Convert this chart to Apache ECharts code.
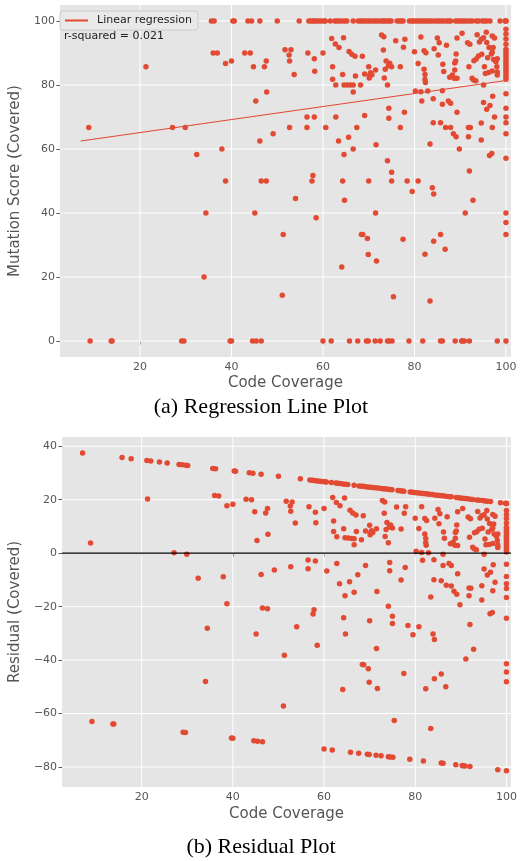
<!DOCTYPE html>
<html>
<head>
<meta charset="utf-8">
<script src="https://cdn.jsdelivr.net/npm/echarts@6/dist/echarts.min.js"></script>
<style>
html,body{margin:0;padding:0;background:#fff;}
#chart{width:522px;height:861px;}
</style>
</head>
<body>
<div id="chart"></div>
<script>
// ---- Data ----
// Coverage of the points whose mutation score is 100
const fullScoreCoverage = [7.05, 15.7, 17.7, 21.15, 22.0, 23.9, 25.6, 28.2, 28.9, 29.7, 30.1, 35.6, 36.2, 40.3, 40.6, 43.6, 44.4, 46.2, 50.0, 54.8, 56.9, 57.4, 57.8, 58.2, 58.6, 59.1, 59.6, 60.2, 60.5, 61.6, 62.6, 63.0, 63.5, 64.1, 64.7, 65.2, 66.6, 67.7, 68.2, 68.6, 69.1, 69.6, 70.1, 70.6, 71.2, 71.7, 72.2, 72.8, 73.2, 73.6, 74.1, 74.5, 74.9, 76.2, 76.7, 77.1, 77.5, 78.9, 79.4, 79.8, 80.3, 80.8, 81.3, 81.8, 82.3, 82.7, 83.2, 83.7, 84.3, 84.9, 85.4, 85.9, 86.4, 87.0, 87.5, 87.9, 89.0, 89.5, 89.9, 90.4, 90.9, 91.5, 92.1, 92.6, 93.5, 94.0, 94.8, 95.3, 95.8, 96.5, 98.7, 99.8];
// Coverage of the points whose mutation score is 0
const zeroScoreCoverage = [9.1, 13.7, 13.9, 29.1, 29.6, 39.7, 40.0, 44.6, 45.4, 46.5, 60.0, 61.8, 65.8, 67.6, 69.5, 69.9, 71.4, 72.5, 74.1, 74.5, 75.1, 78.8, 81.8, 85.7, 86.1, 88.9, 90.3, 90.5, 90.9, 92.0, 98.1];
// Mutation scores of the points with 100% coverage
const fullCoverageScores = [100, 100, 97.4, 95.9, 94.4, 92.7, 91.1, 90.4, 89.6, 88.8, 88.0, 87.3, 86.5, 85.7, 84.9, 84.2, 83.4, 82.6, 81.8, 77.3, 72.7, 70.0, 68.2, 64.8, 57.1, 40.0, 37.0, 33.3, 0];
// Remaining points [coverage, score]
const otherPoints = [
 [8.8,66.7],[21.3,85.7],[27.1,66.7],[29.9,66.7],[32.4,58.3],[37.9,60],[38.7,50],[36.0,90],[36.9,90],[38.7,86.7],[40.0,87.5],[42.9,90],[44.1,90],[44.8,85.7],[45.3,75],[46.2,62.5],[46.5,50],[34.4,40],[45.1,40],[34.0,20],
 [47.2,85.7],[47.6,87.5],[47.7,77.8],[49.1,64.8],[51.7,91],[52.6,89.4],[53.0,91],[52.7,87.5],[53.7,83.3],[56.7,90],[56.5,70],[58.1,70],[52.7,66.7],[56.5,66.7],[58.1,88.2],[58.2,84.3],[60,90],[47.6,50],[57.6,50],[57.8,51.7],[54,44.5],[58.5,38.5],[51.3,33.3],[51.1,14.3],
 [61.9,94.5],[62.7,92.8],[63.5,91.7],[64.5,94.8],[62.1,85.7],[62.1,81.8],[62.8,80],[64.3,83.3],[64.6,80],[65.3,80],[66.0,80],[66.6,80],[68.2,80],[66.6,77.8],[65.7,90.5],[66.3,89.6],[67.0,89],[68.6,89],[67.1,82.8],[69.1,83.4],[70.0,85.7],[70.4,83.8],[70.1,82.2],[70.7,83.2],[71.5,84.7],[70.2,83],[72.8,95.6],[73.3,95.1],[73.2,90.9],[73.8,87.5],[74.6,86.8],[75.0,85.7],[74.3,86],[73.6,84.9],[73.4,82.2],[74.1,80],[75.9,93.8],[77.6,91.8],[77.9,94.3],[76.9,85.7],
 [60.6,66.7],[62.8,70],[69.1,70.5],[74.4,72.7],[74.4,69.6],[77.8,71.5],[67.4,66.7],[76.9,66.7],[63.4,62.5],[65.6,63.7],[66.6,60],[64.6,58.3],[71.6,61.3],[74.1,56.3],[75.0,52.7],[64.3,50],[70,50],[75,50],[78.4,50],[64.7,44],[71.5,40],[68.4,33.3],[68.7,33.3],[69.7,32],[69.9,27],[71.7,25],[64.1,23.1],[77.5,31.8],[75.4,13.8],[79.5,46.7],
 [80,90.4],[80.8,86.7],[81.4,95],[82.1,90.7],[82.5,90.1],[82.1,84.9],[82.3,83.3],[82.3,81.7],[82.4,80.8],[85,94.7],[85.4,93.2],[84.3,91.3],[85.2,89.4],[87,92.4],[86.2,86.5],[86.4,84.2],[88.8,86.9],[88.8,84.7],[87.7,82.4],[88.3,83.1],[88.7,82.1],[89.3,82.1],[89.1,89.7],[89.3,94.7],[90.4,96.2],[91.6,93.2],[92.1,92.7],[91.9,85.7],[89,87.5],[93,87.6],[93.5,88.1],[94,89.1],[93.7,95.7],[94.6,94.3],[95.1,94.8],[95.7,96.5],[94.2,93.4],[94.7,89.6],[96,88.5],[96.8,89.7],[95.3,85.7],[95.5,83.6],[96.2,83.9],[92.6,82.1],[92.9,81.6],[93.4,81.3],[95.1,80],[97,95.3],[97.5,94.7],[96.3,91.7],[97.2,91.7],[97,90.2],[97.3,88],[98.1,88.2],[97.8,87.3],[98,85.7],[98.1,84.1],[97,84.4],[98.1,83.1],[95.8,93.3],
 [80.2,78.1],[81.4,77.9],[82.9,78.1],[86.1,78.2],[81.6,75],[84.1,75.7],[86.1,74],[87.4,75],[87.9,74.3],[89.3,71.5],[95.1,74.5],[97.1,76.5],[96.5,73.6],[95.8,72.4],[97.5,70],[97,66.7],[94.6,68.1],[84.1,68.2],[85.7,68.2],[86.8,66.7],[87.9,66.7],[88.5,64.8],[89.1,63.8],[91.8,66.7],[92.2,66.7],[91.8,63.8],[89.8,60],[94.6,62.8],[83.4,61.6],[80.8,50],[83.9,47.9],[84.2,45.9],[92.0,53.1],[96.4,58],[96.9,58.6],[92.8,44],[91.1,40],[82.3,27.1],[84.2,31.2],[85.7,33.3],[86.7,28.7],[83.4,12.5]
];
// Regression line end points (coverage, fitted score)
const lineCoverage = [7.05, 100];
const lineScore = [62.5, 81.4];
const rSquaredText = 'r-squared = 0.021';
// Tick labels
const coverageTicks = [20, 40, 60, 80, 100];
const scoreTicks = [0, 20, 40, 60, 80, 100];
const residualTicks = [-80, -60, -40, -20, 0, 20, 40];
const captionA = '(a) Regression Line Plot';
const captionB = '(b) Residual Plot';

// ---- Build tables ----
const points = [];
fullScoreCoverage.forEach(x => points.push([x, 100]));
zeroScoreCoverage.forEach(x => points.push([x, 0]));
fullCoverageScores.forEach(y => points.push([100, y]));
otherPoints.forEach(p => points.push(p));

const slope = (lineScore[1] - lineScore[0]) / (lineCoverage[1] - lineCoverage[0]);
const fitted = x => lineScore[0] + (x - lineCoverage[0]) * slope;
const residuals = points.map(p => [p[0], p[1] - fitted(p[0])]);

const RED = '#E24A33';
const GRAY = '#555555';
const FONT = 'DejaVu Sans';
const minus = v => String(v).replace('-', '\u2212');

// axis extents (layout of the two panels)
const X1 = [2.49, 101.1], Y1 = [-5, 105];
const X2 = [2.56, 101.0], Y2 = [-87.45, 43.45];
const G1 = {left: 55, top: 5, width: 456, height: 352};
const G2 = {left: 57.3, top: 437, width: 453.7, height: 350};

function xAxisCfg(gi, ext, gap) {
  return {
    type: 'value', gridIndex: gi, min: ext[0], max: ext[1],
    name: 'Code Coverage', nameLocation: 'middle', nameGap: gap,
    nameTextStyle: {color: GRAY, fontSize: 15, fontFamily: FONT},
    axisLine: {show: false},
    axisTick: {show: true, length: 3.5, lineStyle: {color: GRAY, width: 1}, customValues: coverageTicks},
    axisLabel: {color: GRAY, fontSize: 11, fontFamily: FONT, margin: 5, customValues: coverageTicks},
    splitLine: {show: false}
  };
}
function yAxisCfg(gi, ext, name, ticks, gap) {
  return {
    type: 'value', gridIndex: gi, min: ext[0], max: ext[1],
    name: name, nameLocation: 'middle', nameGap: gap, nameRotate: 90,
    nameTextStyle: {color: GRAY, fontSize: 15, fontFamily: FONT},
    axisLine: {show: false},
    axisTick: {show: true, length: 3.5, lineStyle: {color: GRAY, width: 1}, customValues: ticks},
    axisLabel: {color: GRAY, fontSize: 11, fontFamily: FONT, margin: 5, customValues: ticks, formatter: minus},
    splitLine: {show: false}
  };
}
// white grid lines at the tick values, drawn through the axes
function gridSeries(idx, xExt, yExt, yTicks) {
  const base = {type: 'line', xAxisIndex: idx, yAxisIndex: idx, symbol: 'none', showSymbol: false,
    silent: true, z: 1, lineStyle: {color: '#ffffff', width: 1}, emphasis: {disabled: true}};
  const out = [];
  coverageTicks.forEach(v => out.push(Object.assign({}, base, {data: [[v, yExt[0]], [v, yExt[1]]]})));
  yTicks.forEach(v => out.push(Object.assign({}, base, {data: [[xExt[0], v], [xExt[1], v]]})));
  return out;
}

const chart = echarts.init(document.getElementById('chart'), null, {renderer: 'canvas'});
chart.setOption({
  animation: false,
  backgroundColor: '#ffffff',
  grid: [
    Object.assign({show: true, backgroundColor: '#E5E5E5', borderWidth: 0}, G1),
    Object.assign({show: true, backgroundColor: '#E5E5E5', borderWidth: 0}, G2)
  ],
  xAxis: [xAxisCfg(0, X1, 19), xAxisCfg(1, X2, 20)],
  yAxis: [
    yAxisCfg(0, Y1, 'Mutation Score (Covered)', scoreTicks, 25),
    yAxisCfg(1, Y2, 'Residual (Covered)', residualTicks, 27)
  ],
  legend: {
    data: ['Linear regression'], left: 60, top: 11, z: 10,
    itemWidth: 23, itemHeight: 11, padding: [4, 6, 4, 4],
    backgroundColor: '#E9E9E9', borderColor: '#CCCCCC', borderWidth: 1, borderRadius: 3,
    itemStyle: {opacity: 0},
    textStyle: {color: '#222', fontSize: 11, fontFamily: FONT, padding: [0, 0, 0, 4]}
  },
  graphic: [
    {type: 'text', left: 64, top: 31, z: 10, style: {text: rSquaredText, fill: '#222', fontSize: 11, fontFamily: FONT}},
    {type: 'text', left: 'center', top: 396, style: {text: captionA, fill: '#000', fontSize: 22, fontFamily: 'Liberation Serif'}},
    {type: 'text', left: 'center', top: 836, style: {text: captionB, fill: '#000', fontSize: 22, fontFamily: 'Liberation Serif'}}
  ],
  series: [].concat(
    gridSeries(0, X1, Y1, scoreTicks),
    gridSeries(1, X2, Y2, residualTicks),
    [
      {type: 'scatter', xAxisIndex: 0, yAxisIndex: 0, data: points, symbolSize: 5.5,
       itemStyle: {color: RED, opacity: 1}, z: 3},
      {type: 'line', name: 'Linear regression', xAxisIndex: 0, yAxisIndex: 0,
       data: lineCoverage.map((x, i) => [x, lineScore[i]]), symbol: 'none', showSymbol: false,
       lineStyle: {color: RED, width: 1.2}, itemStyle: {color: RED}, z: 4},
      {type: 'scatter', xAxisIndex: 1, yAxisIndex: 1, data: residuals, symbolSize: 5.5,
       itemStyle: {color: RED, opacity: 1}, z: 3},
      {type: 'line', xAxisIndex: 1, yAxisIndex: 1, data: [[X2[0], 0], [X2[1], 0]],
       symbol: 'none', showSymbol: false, silent: true, z: 5,
       lineStyle: {color: '#000', width: 1.2}}
    ]
  )
});
</script>
</body>
</html>
